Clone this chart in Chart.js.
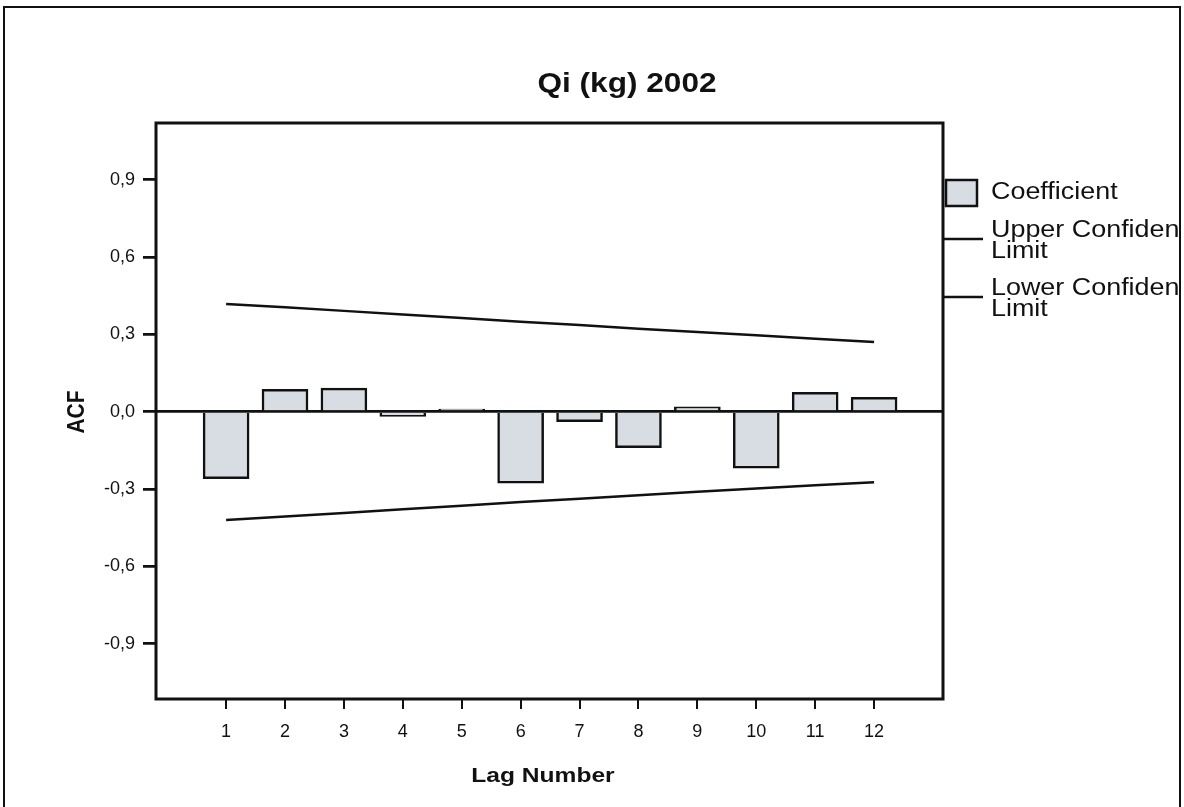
<!DOCTYPE html>
<html>
<head>
<meta charset="utf-8">
<title>Qi (kg) 2002</title>
<script src="https://cdn.jsdelivr.net/npm/chart.js@4.4.1/dist/chart.umd.min.js"></script>
<style>
  html, body { margin: 0; padding: 0; background: #fff; }
  #box { width: 1184px; height: 807px; position: relative; }
</style>
</head>
<body>
<div id="box"><canvas id="acfChart"></canvas></div>
<script>
// ACF of Qi (kg) 2002, lags 1..12
const lags = [1, 2, 3, 4, 5, 6, 7, 8, 9, 10, 11, 12];
const coefficient = [-0.260, 0.087, 0.091, -0.019, 0.010, -0.278, -0.039, -0.140, 0.019, -0.219, 0.075, 0.056];
const upperLimit = [0.418, 0.405, 0.391, 0.377, 0.363, 0.349, 0.336, 0.322, 0.309, 0.296, 0.283, 0.270];
const lowerLimit = [-0.420, -0.407, -0.393, -0.379, -0.365, -0.351, -0.338, -0.324, -0.311, -0.298, -0.286, -0.274];
const yTicks = [-0.9, -0.6, -0.3, 0, 0.3, 0.6, 0.9];

const ink = '#111';
const barFill = '#d8dce3';
const fontFam = "'Liberation Sans', Arial, sans-serif";
const stretch = 1.17; // text in this chart is a bit wide

Chart.defaults.font.family = fontFam;
Chart.defaults.color = ink;

function pts(values) {
    return lags.map((l, i) => ({ x: l, y: values[i] }));
}

// writes text stretched horizontally around (x, y)
function wideText(ctx, txt, x, y, font, align, rotate) {
    ctx.save();
    ctx.font = font;
    ctx.fillStyle = ink;
    ctx.textAlign = align;
    ctx.textBaseline = 'middle';
    ctx.translate(x, y);
    if (rotate) {
        ctx.rotate(-Math.PI / 2);
        ctx.scale(1, stretch);
    } else {
        ctx.scale(stretch, 1);
    }
    ctx.fillText(txt, 0, 0);
    ctx.restore();
}

// frame, titles and legend
const decor = {
    id: 'decor',
    afterDraw(chart) {
        const ctx = chart.ctx;
        const a = chart.chartArea;

        ctx.save();
        ctx.strokeStyle = ink;
        ctx.lineWidth = 2;
        ctx.strokeRect(4, 7, 1176, 830);
        ctx.lineWidth = 3;
        ctx.strokeRect(a.left, a.top, a.right - a.left, a.bottom - a.top);
        ctx.restore();

        wideText(ctx, 'Qi (kg) 2002', 627, 85, 'bold 27px ' + fontFam, 'center');
        wideText(ctx, 'Lag Number', 543, 776, 'bold 21px ' + fontFam, 'center');
        wideText(ctx, 'ACF', 77, 412, 'bold 21px ' + fontFam, 'center', true);

        // legend, cut off by the outer frame on the right
        const ds = chart.data.datasets;
        ctx.save();
        ctx.beginPath();
        ctx.rect(930, 150, 249, 200);
        ctx.clip();

        ctx.fillStyle = ds[0].backgroundColor;
        ctx.fillRect(946, 180, 31, 26);
        ctx.strokeStyle = ds[0].borderColor;
        ctx.lineWidth = 2.5;
        ctx.strokeRect(946, 180, 31, 26);

        ctx.strokeStyle = ds[1].borderColor;
        ctx.lineWidth = ds[1].borderWidth;
        ctx.beginPath();
        ctx.moveTo(944, 239); ctx.lineTo(983, 239);
        ctx.stroke();
        ctx.strokeStyle = ds[2].borderColor;
        ctx.lineWidth = ds[2].borderWidth;
        ctx.beginPath();
        ctx.moveTo(944, 297); ctx.lineTo(983, 297);
        ctx.stroke();

        const lf = '23px ' + fontFam;
        wideText(ctx, 'Coefficient', 991, 193, lf, 'left');
        wideText(ctx, 'Upper Confidence', 991, 231, lf, 'left');
        wideText(ctx, 'Limit', 991, 252, lf, 'left');
        wideText(ctx, 'Lower Confidence', 991, 289, lf, 'left');
        wideText(ctx, 'Limit', 991, 310, lf, 'left');
        ctx.restore();
    }
};

new Chart(document.getElementById('acfChart'), {
    type: 'bar',
    data: {
        datasets: [{
            label: 'Coefficient',
            data: pts(coefficient),
            backgroundColor: barFill,
            borderColor: ink,
            borderWidth: 2.5,
            barThickness: 46,
            order: 2
        }, {
            type: 'line',
            label: 'Upper Confidence Limit',
            data: pts(upperLimit),
            borderColor: ink,
            borderWidth: 2.5,
            pointRadius: 0,
            fill: false,
            order: 1
        }, {
            type: 'line',
            label: 'Lower Confidence Limit',
            data: pts(lowerLimit),
            borderColor: ink,
            borderWidth: 2.5,
            pointRadius: 0,
            fill: false,
            order: 1
        }]
    },
    options: {
        responsive: true,
        maintainAspectRatio: false,
        animation: false,
        layout: { padding: { left: 0, top: 123, right: 241, bottom: 0 } },
        plugins: {
            legend: { display: false },
            title: { display: false },
            tooltip: { enabled: false }
        },
        scales: {
            x: {
                type: 'linear',
                min: -0.19,
                max: 13.17,
                offset: false,
                afterBuildTicks: s => { s.ticks = lags.map(v => ({ value: v })); },
                afterFit: s => { s.height = 108; },
                ticks: {
                    font: { size: 18 },
                    color: ink,
                    padding: 12,
                    maxRotation: 0
                },
                grid: {
                    offset: false,
                    drawOnChartArea: false,
                    tickLength: 10,
                    color: ink,
                    lineWidth: 2
                },
                border: { display: false }
            },
            y: {
                type: 'linear',
                min: -1.115,
                max: 1.12,
                afterBuildTicks: s => { s.ticks = yTicks.map(v => ({ value: v })); },
                afterFit: s => { s.width = 156; },
                ticks: {
                    font: { size: 18 },
                    color: ink,
                    padding: 8,
                    callback: v => v.toFixed(1).replace('.', ',')
                },
                grid: {
                    drawOnChartArea: true,
                    tickLength: 13,
                    color: c => (c.tick && c.tick.value === 0) ? ink : 'rgba(0,0,0,0)',
                    tickColor: ink,
                    lineWidth: 2.75
                },
                border: { display: false }
            }
        }
    },
    plugins: [decor]
});
</script>
</body>
</html>
